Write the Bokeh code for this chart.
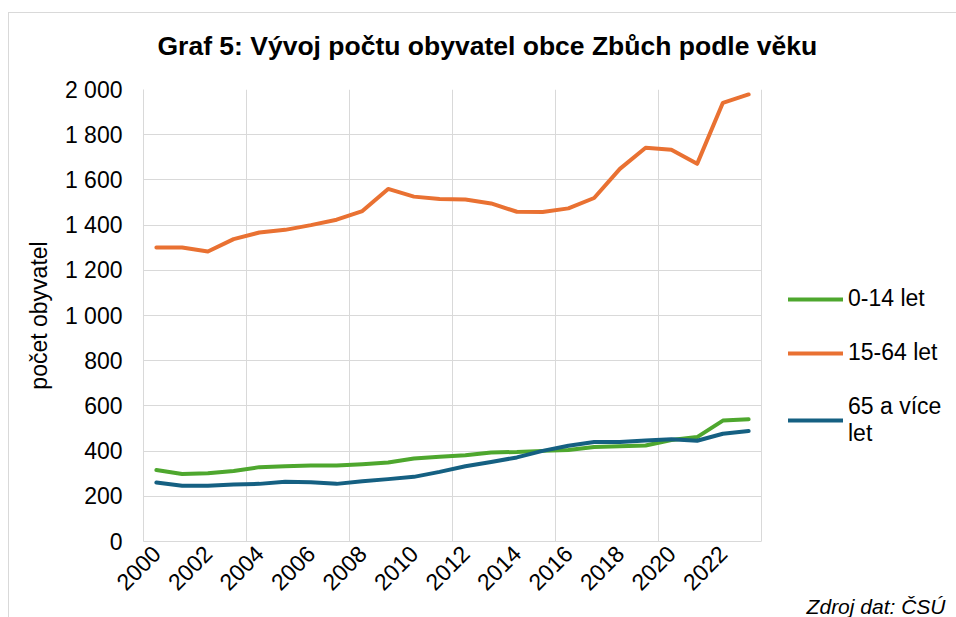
import math
from bokeh.plotting import figure
from bokeh.models import FixedTicker, Legend, LegendItem, Range1d, Title
from bokeh.embed import file_html
from bokeh.resources import INLINE

years = list(range(2000, 2024))
age_0_14 = [316, 299, 302, 312, 329, 333, 336, 336, 342, 350, 367, 375, 382, 394, 396, 401,
            405, 418, 422, 425, 449, 462, 535, 541]
age_15_64 = [1301, 1301, 1283, 1338, 1367, 1379, 1400, 1424, 1462, 1560, 1526, 1516, 1513, 1496,
             1459, 1458, 1474, 1520, 1649, 1742, 1733, 1671, 1941, 1978]
age_65_plus = [261, 247, 247, 252, 255, 264, 262, 255, 267, 276, 286, 308, 333, 352, 372, 401,
               424, 440, 440, 447, 452, 446, 477, 489]
x_tick_years = list(range(2000, 2023, 2))
y_ticks = list(range(0, 2001, 200))
series_names = ["0-14 let", "15-64 let", "65 a více\nlet"]
series_colors = ["#4EA72E", "#E97132", "#156082"]
title_text = "Graf 5: Vývoj počtu obyvatel obce Zbůch podle věku"
y_label = "počet obyvatel"
source_text = "Zdroj dat: ČSÚ"

FONT = "Liberation Sans"
GRID = "#d9d9d9"
FS = "23px"

# plot area spans the data (first-0.5 .. last+0.5); the frame is widened to host the legend
x_lo = years[0] - 0.5
x_hi = years[-1] + 0.5
PLOT_W = 618          # px width of the data area
FRAME_W = 805         # px width of the frame (data area + legend area)
x_frame_hi = x_lo + (x_hi - x_lo) * FRAME_W / PLOT_W
x_grid = [x_lo + 4 * k for k in range(int((x_hi - x_lo) // 4) + 1)]

p = figure(width=956, height=617, output_backend="svg", toolbar_location=None,
           x_range=Range1d(x_lo, x_frame_hi), y_range=Range1d(0, 2000),
           min_border_left=143, min_border_right=8, min_border_top=83, min_border_bottom=76)
p.border_fill_color = None
p.styles = {
    "background-color": "white",
    "background-image": "linear-gradient(#d9d9d9, #d9d9d9), linear-gradient(#d9d9d9, #d9d9d9)",
    "background-size": "1px 100%, 100% 1px",
    "background-position": "8px 12px, 8px 12px",
    "background-repeat": "no-repeat",
}

p.title.text = title_text
p.title.text_font = FONT
p.title.text_font_size = "26.5px"
p.title.text_font_style = "bold"
p.title.text_color = "black"
p.title.align = "left"
p.title.offset = 14
p.title.standoff = 57

p.outline_line_color = None

# x axis
p.xaxis.ticker = FixedTicker(ticks=x_tick_years)
p.xaxis.bounds = (x_lo, x_hi)
p.xaxis.major_label_orientation = math.pi / 4
p.xaxis.major_label_text_font = FONT
p.xaxis.major_label_text_font_size = FS
p.xaxis.major_label_text_color = "black"
p.xaxis.major_tick_line_color = None
p.xaxis.major_tick_out = 0
p.xaxis.major_tick_in = 0
p.xaxis.minor_tick_line_color = None
p.xaxis.axis_line_color = GRID
p.xaxis.major_label_standoff = 8
p.xgrid.ticker = FixedTicker(ticks=x_grid)
p.xgrid.grid_line_color = GRID

# y axis
p.yaxis.ticker = FixedTicker(ticks=y_ticks)
p.yaxis.major_label_overrides = {v: f"{v:,}".replace(",", " ") for v in y_ticks}
p.yaxis.major_label_text_font = FONT
p.yaxis.major_label_text_font_size = FS
p.yaxis.major_label_text_color = "black"
p.yaxis.major_tick_line_color = None
p.yaxis.major_tick_out = 0
p.yaxis.major_tick_in = 0
p.yaxis.minor_tick_line_color = None
p.yaxis.axis_line_color = GRID
p.yaxis.major_label_standoff = 21
p.yaxis.axis_label = y_label
p.yaxis.axis_label_text_font = FONT
p.yaxis.axis_label_text_font_size = FS
p.yaxis.axis_label_text_font_style = "normal"
p.yaxis.axis_label_text_color = "black"
p.yaxis.axis_label_standoff = 10
p.ygrid.grid_line_color = GRID
p.ygrid.cross_bounds = (x_lo, x_hi)

renderers = []
for vals, col in zip([age_0_14, age_15_64, age_65_plus], series_colors):
    r = p.line(years, vals, line_color=col, line_width=4, line_cap="round", line_join="round")
    renderers.append(r)

legend = Legend(items=[LegendItem(label=n, renderers=[r]) for n, r in zip(series_names, renderers)],
                location=(645, 94))
legend.label_text_font = FONT
legend.label_text_font_size = FS
legend.label_text_color = "black"
legend.glyph_width = 55
legend.glyph_height = 24
legend.label_height = 24
legend.label_standoff = 5
legend.spacing = 27
legend.padding = 0
legend.margin = 0
legend.border_line_color = None
legend.background_fill_alpha = 0
p.add_layout(legend, "center")

src = Title(text=source_text, text_font=FONT, text_font_size="21px", text_font_style="italic",
            text_color="black", align="right", offset=3, standoff=-12, vertical_align="top")
p.add_layout(src, "below")

open("out.html", "w").write(file_html(p, INLINE))
